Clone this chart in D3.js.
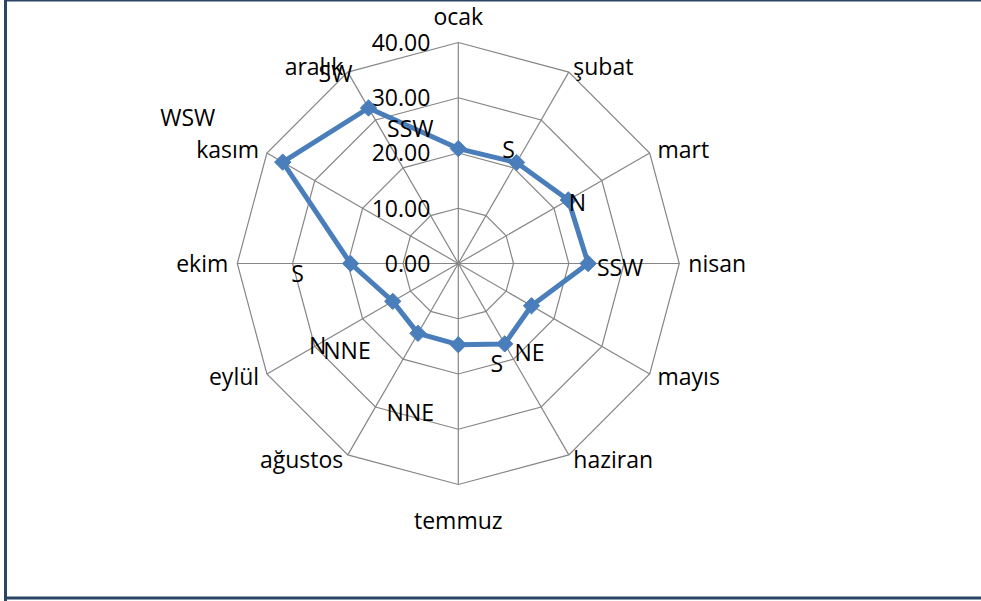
<!DOCTYPE html>
<html>
<head>
<meta charset="utf-8">
<script src="https://cdn.jsdelivr.net/npm/d3@7"></script>
<style>
  html, body { margin: 0; padding: 0; background: #fff; overflow: hidden; }
  svg { display: block; }
  text { font-family: "Open Sans", "Noto Sans", sans-serif; fill: #000; }
</style>
</head>
<body>
<svg id="chart" width="981" height="601"></svg>
<script>
// Monthly values (radar series) and the prevailing wind direction for each month
const months = ["ocak", "şubat", "mart", "nisan", "mayıs", "haziran",
                "temmuz", "ağustos", "eylül", "ekim", "kasım", "aralık"];
const values = [20.8, 21.1, 23.0, 23.5, 15.3, 16.8, 14.7, 14.6, 13.7, 19.5, 36.7, 32.5];
const directions = ["SSW", "S", "N", "SSW", "NE", "S", "NNE", "NNE", "N", "S", "WSW", "SW"];
const ticks = [0, 10, 20, 30, 40];

// Hand-placed offsets of the direction labels, relative to each point
const labelNudge = [[-48, -20], [-8, -13], [9, 3], [32, 4], [-2, 47], [-8, 20],
                    [-48, 68], [-71, 17], [-75, 44], [-53, 10], [-95, -44], [-33, -34]];

const svg = d3.select("#chart");
const cx = 458.3, cy = 263.5, R = 221;
const fs = 23;

// Outer frame: left, top and bottom edges
const frame = "#2a4565";
svg.append("rect").attr("x", 4).attr("y", 0).attr("width", 3).attr("height", 601).attr("fill", frame);
svg.append("rect").attr("x", 4).attr("y", 0).attr("width", 977).attr("height", 1.5).attr("fill", frame);
svg.append("rect").attr("x", 4).attr("y", 596.5).attr("width", 977).attr("height", 3).attr("fill", frame);

const r = d3.scaleLinear().domain([0, 40]).range([0, R]);
const angle = d3.scalePoint().domain(months).range([0, 2 * Math.PI * 11 / 12]);

const px = (m, v) => cx + r(v) * Math.sin(angle(m));
const py = (m, v) => cy - r(v) * Math.cos(angle(m));

const g = svg.append("g");

// Grid rings (polygons)
ticks.slice(1).forEach(t => {
  g.append("polygon")
    .attr("points", months.map(m => [px(m, t), py(m, t)].join(",")).join(" "))
    .attr("fill", "none").attr("stroke", "#868686").attr("stroke-width", 1.2);
});

// Spokes
months.forEach(m => {
  g.append("line")
    .attr("x1", cx).attr("y1", cy)
    .attr("x2", px(m, 40)).attr("y2", py(m, 40))
    .attr("stroke", "#868686").attr("stroke-width", 1.2);
});

// Value axis labels along the vertical spoke
g.selectAll(".tick").data(ticks).enter().append("text")
  .attr("x", cx - 28).attr("y", d => cy - r(d))
  .attr("dy", "0.36em").attr("text-anchor", "end")
  .attr("font-size", fs)
  .text(d => d3.format(".2f")(d));

// Month labels outside the web
months.forEach(m => {
  const a = angle(m), s = Math.sin(a), c = Math.cos(a);
  let x = px(m, 40) + s * 9, y = py(m, 40) - c * 6;
  let anchor = "start";
  if (Math.abs(s) < 0.01) { anchor = "middle"; y += c > 0 ? -20 : 30; }
  else if (s < 0) anchor = "end";
  g.append("text")
    .attr("x", x).attr("y", y).attr("dy", "0.36em")
    .attr("text-anchor", anchor).attr("font-size", fs)
    .text(m);
});

// Series line
const pts = months.map((m, i) => [px(m, values[i]), py(m, values[i])]);
g.append("path")
  .attr("d", d3.line().curve(d3.curveLinearClosed)(pts))
  .attr("fill", "none").attr("stroke", "#4a7ebb").attr("stroke-width", 5)
  .attr("stroke-linejoin", "round");

// Diamond markers
g.selectAll(".marker").data(pts).enter().append("path")
  .attr("transform", d => `translate(${d[0]},${d[1]})`)
  .attr("d", d3.symbol().type(d3.symbolDiamond2).size(170)())
  .attr("fill", "#4a7ebb").attr("stroke", "#4a7ebb").attr("stroke-width", 1);

// Wind direction labels
g.selectAll(".dir").data(directions).enter().append("text")
  .attr("x", (d, i) => pts[i][0] + labelNudge[i][0])
  .attr("y", (d, i) => pts[i][1] + labelNudge[i][1])
  .attr("dy", "0.36em").attr("text-anchor", "middle")
  .attr("font-size", fs)
  .text(d => d);
</script>
</body>
</html>
